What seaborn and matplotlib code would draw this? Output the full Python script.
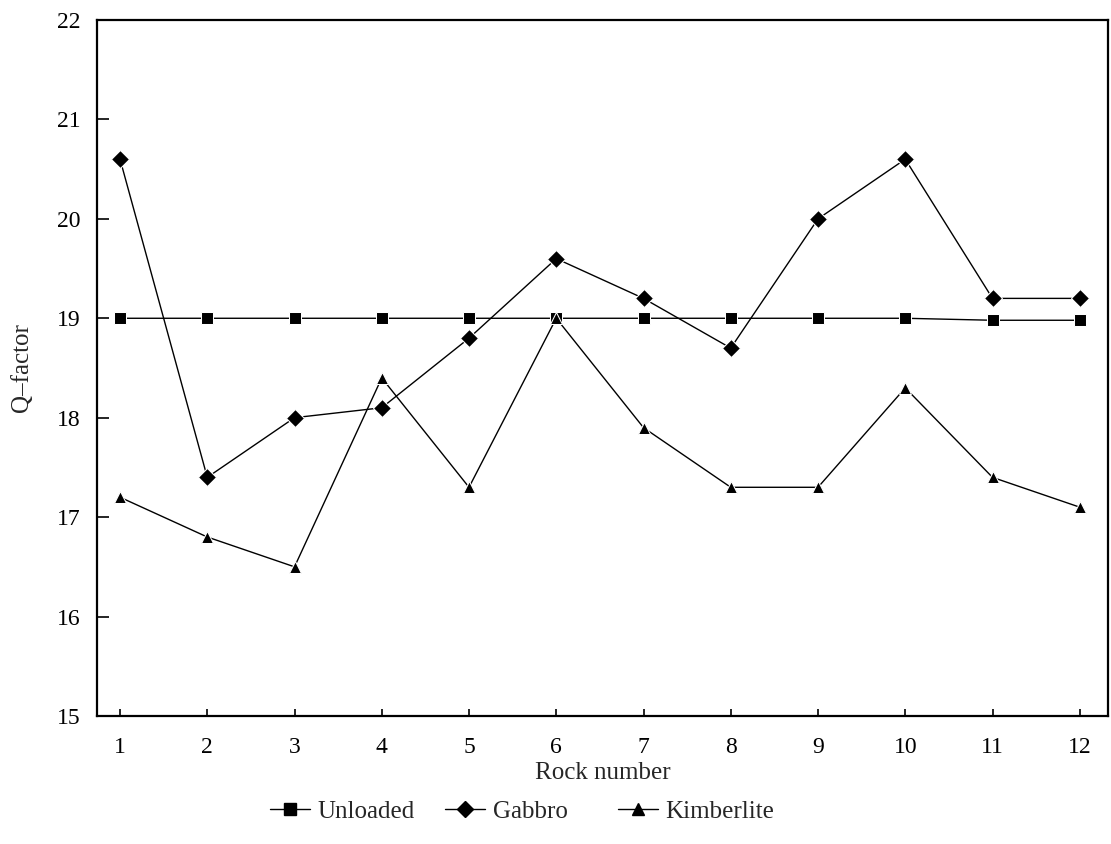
import matplotlib
matplotlib.use("Agg")
import matplotlib.pyplot as plt
import seaborn as sns
import pandas as pd
from matplotlib.lines import Line2D

rocks = list(range(1, 13))
unloaded = [19.0, 19.0, 19.0, 19.0, 19.0, 19.0, 19.0, 19.0, 19.0, 19.0, 18.98, 18.98]
gabbro = [20.6, 17.4, 18.0, 18.1, 18.8, 19.6, 19.2, 18.7, 20.0, 20.6, 19.2, 19.2]
kimberlite = [17.2, 16.8, 16.5, 18.4, 17.3, 19.0, 17.9, 17.3, 17.3, 18.3, 17.4, 17.1]
series_names = ["Unloaded", "Gabbro", "Kimberlite"]
series_markers = ["s", "D", "^"]
yticks = [15, 16, 17, 18, 19, 20, 21, 22]

df = pd.DataFrame({
    "Rock": rocks * 3,
    "Q": unloaded + gabbro + kimberlite,
    "Series": [series_names[0]] * 12 + [series_names[1]] * 12 + [series_names[2]] * 12,
})

sns.set_style("white")
plt.rcParams["font.family"] = ["Liberation Serif", "DejaVu Serif"]

fig = plt.figure(figsize=(11.11, 8.44), dpi=100)
ax = fig.add_axes([0.0873, 0.1517, 0.9097, 0.8246])

sns.lineplot(data=df, x="Rock", y="Q", hue="Series", style="Series",
             palette=["black"] * 3, markers=dict(zip(series_names, series_markers)),
             dashes=False, markersize=9, linewidth=1.0, ax=ax, legend=False)

ax.set_xlim(0.736, 12.32)
ax.set_ylim(15, 22)
ax.set_xticks(rocks)
ax.set_yticks(yticks)
ax.tick_params(axis="both", direction="in", width=1.2, labelsize=17, colors="black",
               bottom=True, left=True, top=False, right=False)
ax.tick_params(axis="x", pad=15, length=5)
ax.tick_params(axis="y", pad=12, length=8.5)
for s in ax.spines.values():
    s.set_color("black")
    s.set_linewidth(1.6)
ax.set_xlabel("Rock number", fontsize=18, labelpad=3)
ax.set_ylabel("Q\u2013factor", fontsize=18, labelpad=17)

anchors_x = [270 / 1111, 445 / 1111, 618 / 1111]
for name, m, xa in zip(series_names, series_markers, anchors_x):
    h = Line2D([], [], color="black", marker=m, markersize=8, linewidth=1.0)
    fig.legend([h], [name], loc="center left", bbox_to_anchor=(xa, 0.038),
               frameon=False, fontsize=18, handlelength=1.6, handletextpad=0.3,
               borderpad=0, borderaxespad=0)

fig.savefig("out.png", dpi=100)
